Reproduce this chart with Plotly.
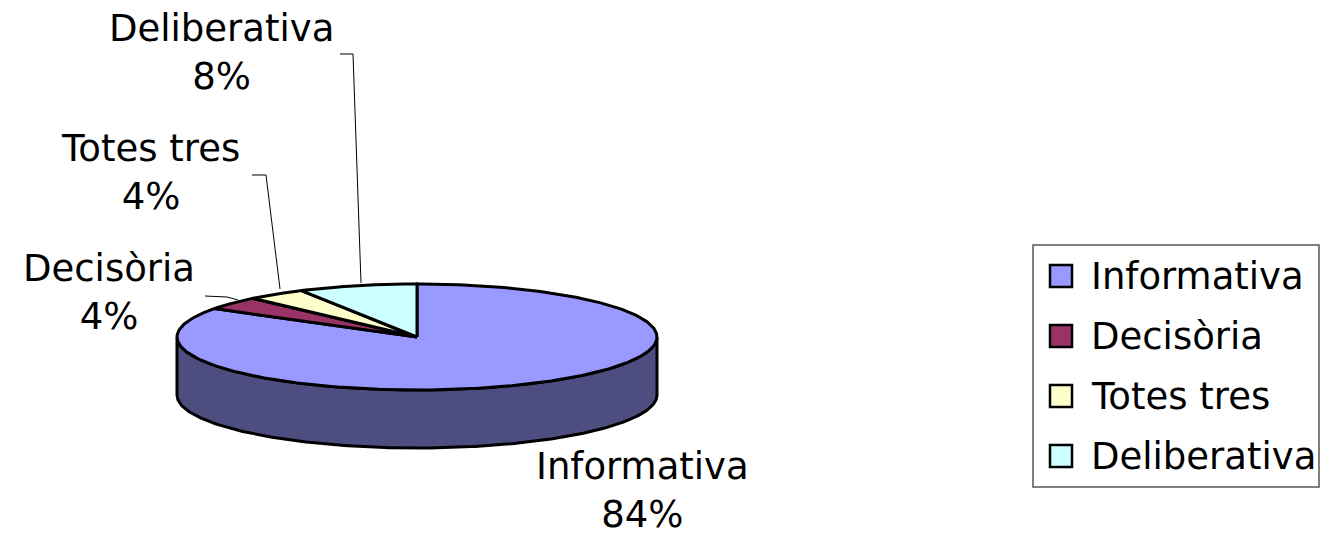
import numpy as np
import plotly.graph_objects as go

# ---- data ----
categories = ["Informativa", "Decisòria", "Totes tres", "Deliberativa"]
counts = [21, 1, 1, 2]
top_colors = ["#9999FF", "#993366", "#FFFFCC", "#CCFFFF"]
side_colors = ["#4D4D80", "#4D1A33", "#808066", "#668080"]

# ---- geometry (pixel space) ----
W, H = 1323, 536
cx, cy = 417, 337
rx, ry = 240, 53
depth = 58
FONT = "DejaVu Sans"
FS = 37

total = float(sum(counts))
fracs = [c / total for c in counts]


def ell(t):
    return cx + rx * np.cos(t), cy - ry * np.sin(t)


fig = go.Figure()

# slice angles: start at 12 o'clock, go clockwise
angles = []
a = np.pi / 2
for f in fracs:
    a2 = a - f * 2 * np.pi
    angles.append((a, a2))
    a = a2

# sides (front half visible)
for i, (a1, a2) in enumerate(angles):
    for k in range(-2, 2):
        lo, hi = -np.pi + 2 * np.pi * k, 0 + 2 * np.pi * k
        s, e = max(a2, lo), min(a1, hi)
        if e > s:
            t = np.linspace(s, e, 200)
            x, y = ell(t)
            xs = np.concatenate([x, x[::-1], x[:1]])
            ys = np.concatenate([y, (y + depth)[::-1], y[:1]])
            fig.add_trace(go.Scatter(x=xs, y=ys, mode="lines", fill="toself",
                                     fillcolor=side_colors[i],
                                     line=dict(color="black", width=3),
                                     hoverinfo="skip", showlegend=False))

# tops
for i, (a1, a2) in enumerate(angles):
    t = np.linspace(a1, a2, 300)
    x, y = ell(t)
    xs = np.concatenate([[cx], x, [cx]])
    ys = np.concatenate([[cy], y, [cy]])
    fig.add_trace(go.Scatter(x=xs, y=ys, mode="lines", fill="toself",
                             fillcolor=top_colors[i],
                             line=dict(color="black", width=3),
                             hoverinfo="skip", showlegend=False))

# ---- data labels ----
label_pos = [(642, 490), (109, 292), (150, 172), (221, 52)]
for i, cat in enumerate(categories):
    pct = f"{round(fracs[i] * 100):.0f}%"
    fig.add_annotation(x=label_pos[i][0], y=label_pos[i][1], text=f"{cat}<br>{pct}",
                       showarrow=False, xanchor="center", yanchor="middle", borderpad=0,
                       font=dict(family=FONT, size=FS, color="black"))

# leader lines
leaders = [
    None,
    [(205, 296), (227, 297), (238, 300)],
    [(252, 175), (266, 175), (280, 289)],
    [(340, 54), (353, 54), (361, 283)],
]
for pts in leaders:
    if pts:
        fig.add_trace(go.Scatter(x=[p[0] for p in pts], y=[p[1] for p in pts],
                                 mode="lines", line=dict(color="black", width=1),
                                 hoverinfo="skip", showlegend=False))

# ---- legend (manual) ----
lx0, ly0, lx1, ly1 = 1033, 245, 1319, 487
fig.add_shape(type="rect", x0=lx0, y0=ly0, x1=lx1, y1=ly1,
              line=dict(color="#555555", width=1.5), fillcolor="white", layer="below")
leg_y = [276 + 60 * i for i in range(len(categories))]
fig.add_trace(go.Scatter(x=[1061] * len(categories), y=leg_y, mode="markers",
                         marker=dict(symbol="square", size=22, color=top_colors,
                                     line=dict(color="black", width=2.5)),
                         hoverinfo="skip", showlegend=False))
for i, cat in enumerate(categories):
    fig.add_annotation(x=1089, y=leg_y[i], text=cat, showarrow=False,
                       xanchor="left", yanchor="middle",
                       font=dict(family=FONT, size=FS, color="black"))

fig.update_layout(
    width=W, height=H, margin=dict(l=0, r=0, t=0, b=0),
    paper_bgcolor="white", plot_bgcolor="white",
    xaxis=dict(range=[0, W], visible=False, fixedrange=True),
    yaxis=dict(range=[H, 0], visible=False, fixedrange=True),
    showlegend=False,
)
fig.write_html("out.html", config={"displayModeBar": False},
               post_script="document.body.style.margin='0';document.body.style.overflow='hidden';")
